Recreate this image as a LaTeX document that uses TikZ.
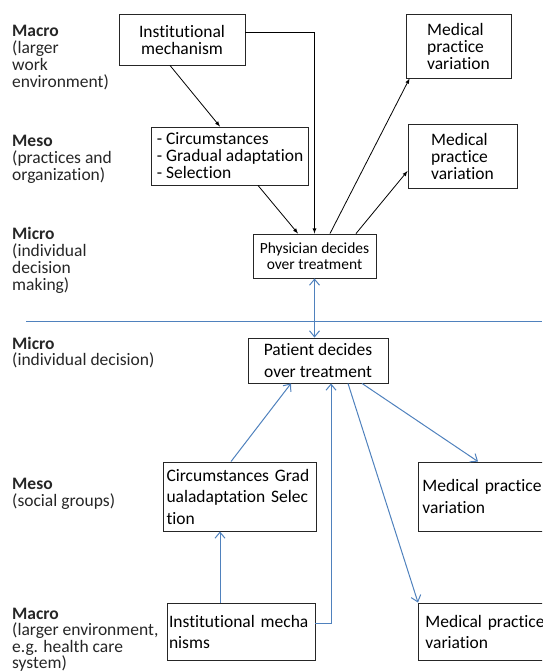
\documentclass[tikz,border=0pt]{standalone}
\usepackage{fontspec}
\setmainfont{Carlito}[Ligatures=NoCommon]
\usetikzlibrary{arrows.meta, positioning}
\definecolor{lineblue}{RGB}{79,129,189}
\tikzstyle{block} = [draw=black!85, fill=white, rectangle, line width=0.9pt, inner sep=0pt]
\tikzstyle{level} = [anchor=north west, align=left, inner sep=0pt, text=black!85]
\tikzstyle{barb} = [draw=lineblue, line width=1pt, -{Straight Barb[length=6pt,width=10pt]}]
\newcommand{\lvl}[1]{\textbf{#1}}

\begin{document}
\begin{tikzpicture}[x=1pt, y=-1pt, >=latex, font=\fontsize{17.5}{17}\selectfont]
    \clip (0,0) rectangle (542,671);
    % levels, left column
    \node[level] (macroA) at (12,25) {\lvl{Macro}\\(larger\\work\\environment)};
    \node[level] (mesoA) at (12,134.5) {\lvl{Meso}\\(practices and\\organization)};
    \node[level] (microA) at (12,227.5) {\lvl{Micro}\\(individual\\decision\\making)};
    \node[level, font=\fontsize{17.5}{16}\selectfont] (microB) at (12,337) {\lvl{Micro}\\(individual decision)};
    \node[level] (mesoB) at (12,477.5) {\lvl{Meso}\\(social groups)};
    \node[level, font=\fontsize{17.5}{16.5}\selectfont] (macroB) at (12,607.5) {\lvl{Macro}\\(larger environment,\\e.g. health care\\system)};

    % physician side
    \node[block, align=center, minimum width=126pt, minimum height=51pt] (inst) at (182,39.5) {Institutional\\mechanism};
    \node[block, align=left, minimum width=157pt, minimum height=58pt] (meso) at (230,156) {- Circumstances\\- Gradual adaptation\\- Selection};
    \node[block, align=center, minimum width=123pt, minimum height=44pt, font=\fontsize{15.5}{16.5}\selectfont] (phys) at (314.5,256) {Physician decides\\over treatment};
    \node[block, align=left, minimum width=105pt, minimum height=64pt] (mpvA) at (458.5,46) {Medical\\practice\\variation};
    \node[block, align=left, minimum width=109pt, minimum height=64pt] (mpvB) at (462.5,156) {Medical\\practice\\variation};
    \draw[->, thick] ([xshift=-12pt]inst.south) -- ([xshift=-10pt]meso.north);
    \draw[->, thick] ([yshift=7.5pt]inst.east) -| (phys.north);
    \draw[->, thick] ([xshift=28pt]meso.south) -- ([xshift=-16.5pt]phys.north);
    \draw[->, thick] ([xshift=15.5pt]phys.north) -- ([xshift=4pt]mpvA.south west);
    \draw[->, thick] ([xshift=41.5pt]phys.north) -- ([yshift=-15pt]mpvB.west);

    \draw[lineblue, line width=1pt] (26,321) -- (542,321);

    % patient side
    \node[block, align=center, minimum width=140pt, minimum height=45pt, font=\fontsize{17.5}{22}\selectfont] (pat) at (318,360.5) {Patient decides\\over treatment};
    \node[block, align=left, text width=147pt, inner xsep=3pt, minimum height=69pt, font=\fontsize{17.5}{21.5}\selectfont] (circ) at (240,496.5) {Circumstances Grad\\ualadaptation Selec\\tion};
    \node[block, align=left, text width=144pt, inner xsep=2pt, minimum height=57pt, font=\fontsize{17.5}{21}\selectfont] (mech) at (241,631.5) {Institutional mecha\\nisms};
    \node[block, anchor=west, align=left, text width=132pt, minimum height=69pt, font=\fontsize{17.5}{22}\selectfont] (mpvC) at (418,496.5) {\hspace*{4pt}Medical practice\\\hspace*{4pt}variation};
    \node[block, anchor=west, align=left, text width=132pt, minimum height=57pt, font=\fontsize{17.5}{21}\selectfont] (mpvD) at (418,631.5) {\hspace*{7pt}Medical practice\\\hspace*{7pt}variation};
    \draw[barb, {Straight Barb[length=6pt,width=10pt]}-{Straight Barb[length=6pt,width=10pt]}] (phys.south) -- (phys.south |- pat.north);
    \draw[barb] ([xshift=-9pt]circ.north) -- ([xshift=-27pt]pat.south);
    \draw[barb] ([xshift=-21pt]mech.north) -- ([xshift=-21pt]mech.north |- circ.south);
    \draw[barb] ([yshift=8.5pt]mech.east) -| ([xshift=13pt]pat.south);
    \draw[barb] ([xshift=30pt]pat.south) -- (mpvD.north west);
    \draw[barb] ([xshift=44pt]pat.south) -- ([xshift=60pt]mpvC.north west);
\end{tikzpicture}
\end{document}
